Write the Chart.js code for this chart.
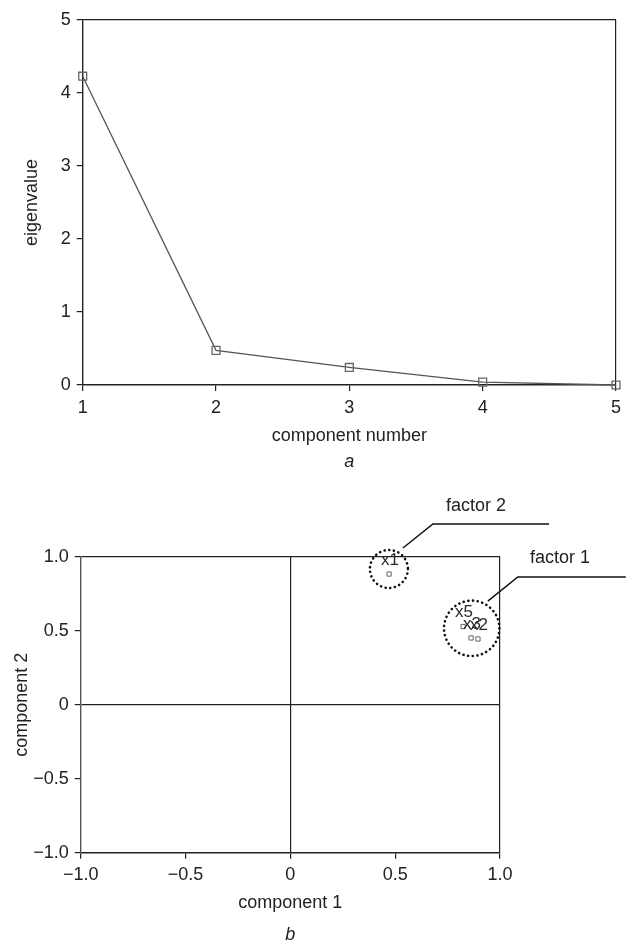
<!DOCTYPE html>
<html>
<head>
<meta charset="utf-8">
<script src="https://cdn.jsdelivr.net/npm/chart.js@4/dist/chart.umd.min.js"></script>
<style>
  body { margin: 0; background: #fff; }
  canvas { position: absolute; left: 0; display: block; }
  #graficoA { top: 0; }
  #graficoB { top: 473px; }
</style>
</head>
<body>
<canvas id="graficoA" width="627" height="473"></canvas>
<canvas id="graficoB" width="627" height="471"></canvas>
<script>
// dados do gráfico a (scree plot)
const componentes = [1, 2, 3, 4, 5];
const autovalores = [4.23, 0.475, 0.24, 0.04, 0.0];

// dados do gráfico b (cargas dos componentes)
const variaveis = ['x1', 'x5', 'x3', 'x2'];
const cargaComp1 = [0.471, 0.824, 0.862, 0.895];
const cargaComp2 = [0.883, 0.528, 0.451, 0.444];
const rotulosCarga = ['\u22121.0', '\u22120.5', '0', '0.5', '1.0'];

// círculos e chamadas dos fatores (em unidades dos eixos)
const circulos = [
  { cx: 0.47, cy: 0.917, raio: 19 },
  { cx: 0.865, cy: 0.516, raio: 27.7 }
];
const chamadas = [
  { texto: 'factor 2', tx: 0.742, ty: 1.343, linha: [[0.537, 1.059], [0.68, 1.221], [1.234, 1.221]] },
  { texto: 'factor 1', tx: 1.143, ty: 0.991, linha: [[0.942, 0.70], [1.085, 0.863], [1.6, 0.863]] }
];

Chart.defaults.font.family = '"Liberation Sans", Arial, sans-serif';
Chart.defaults.color = '#222';

const corEixo = '#222';

// desenha os nomes das variáveis em cima de cada ponto
const rotulosPontos = {
  id: 'rotulosPontos',
  afterDatasetsDraw(chart) {
    const ctx = chart.ctx;
    const meta = chart.getDatasetMeta(0);
    ctx.save();
    ctx.font = '17px "Liberation Sans", Arial, sans-serif';
    ctx.fillStyle = '#2a2a2a';
    ctx.textAlign = 'center';
    ctx.textBaseline = 'middle';
    meta.data.forEach((p, i) => {
      ctx.fillText(variaveis[i], p.x + 1, p.y - 14);
    });
    ctx.restore();
  }
};

// círculos pontilhados + linhas das chamadas "factor"
const fatores = {
  id: 'fatores',
  afterDatasetsDraw(chart) {
    const ctx = chart.ctx;
    const sx = chart.scales.x, sy = chart.scales.y;
    ctx.save();
    ctx.strokeStyle = '#111';
    ctx.lineWidth = 2.6;
    ctx.lineCap = 'round';
    ctx.setLineDash([0.1, 4.6]);
    circulos.forEach(c => {
      ctx.beginPath();
      ctx.arc(sx.getPixelForValue(c.cx), sy.getPixelForValue(c.cy), c.raio, 0, Math.PI * 2);
      ctx.stroke();
    });
    ctx.setLineDash([]);
    ctx.lineCap = 'butt';
    ctx.lineWidth = 1.5;
    chamadas.forEach(c => {
      ctx.beginPath();
      c.linha.forEach((pt, i) => {
        const px = sx.getPixelForValue(pt[0]), py = sy.getPixelForValue(pt[1]);
        if (i === 0) ctx.moveTo(px, py); else ctx.lineTo(px, py);
      });
      ctx.stroke();
      ctx.font = '18px "Liberation Sans", Arial, sans-serif';
      ctx.fillStyle = '#222';
      ctx.textAlign = 'left';
      ctx.textBaseline = 'middle';
      ctx.fillText(c.texto, sx.getPixelForValue(c.tx), sy.getPixelForValue(c.ty));
    });
    ctx.restore();
  }
};

// gráfico a
new Chart(document.getElementById('graficoA'), {
  type: 'line',
  data: {
    datasets: [{
      data: componentes.map((c, i) => ({ x: c, y: autovalores[i] })),
      borderColor: '#555',
      borderWidth: 1.3,
      tension: 0,
      pointStyle: 'rect',
      pointRadius: 5.6,
      pointBorderColor: '#666',
      pointBorderWidth: 1.3,
      pointBackgroundColor: 'rgba(0,0,0,0)',
      clip: false
    }]
  },
  options: {
    responsive: false,
    animation: false,
    layout: { padding: { top: 20, right: 8.7, bottom: 0, left: 0 } },
    scales: {
      x: {
        type: 'linear', min: 1, max: 5,
        ticks: { stepSize: 1, padding: 6, font: { size: 18 }, color: corEixo },
        grid: {
          color: c => (c.tick && c.tick.value === 5) ? corEixo : 'rgba(0,0,0,0)',
          tickColor: corEixo, tickLength: 6, lineWidth: 1.2
        },
        border: { color: corEixo, width: 1.4 },
        title: { display: true, text: 'component number', font: { size: 18 }, color: corEixo, padding: { top: 0, bottom: 6.2 } },
        afterFit: s => { s.height = 68; }
      },
      y: {
        min: 0, max: 5,
        ticks: { stepSize: 1, padding: 6, font: { size: 18 }, color: corEixo },
        grid: {
          color: c => (c.tick && c.tick.value === 5) ? corEixo : 'rgba(0,0,0,0)',
          tickColor: corEixo, tickLength: 6, lineWidth: 1.2
        },
        border: { color: corEixo, width: 1.4 },
        title: { display: true, text: 'eigenvalue', font: { size: 18 }, color: corEixo, padding: { top: 21, bottom: 0 } },
        afterFit: s => { s.width = 82.7; }
      }
    },
    plugins: {
      legend: { display: false },
      tooltip: { enabled: false },
      title: {
        display: true, text: 'a', position: 'bottom', fullSize: false, color: corEixo,
        font: { size: 18, style: 'italic', weight: 'normal', lineHeight: 1 },
        padding: { top: 0, bottom: 2 }
      }
    }
  }
});

// gráfico b
new Chart(document.getElementById('graficoB'), {
  type: 'scatter',
  data: {
    datasets: [{
      data: cargaComp1.map((v, i) => ({ x: v, y: cargaComp2[i] })),
      pointStyle: 'rect',
      pointRadius: 3,
      pointBorderColor: '#666',
      pointBorderWidth: 1,
      pointBackgroundColor: 'rgba(0,0,0,0)',
      clip: false
    }]
  },
  options: {
    responsive: false,
    animation: false,
    layout: { padding: { top: 83.7, right: 127, bottom: 0, left: 0 } },
    scales: {
      x: {
        type: 'linear', min: -1, max: 1,
        ticks: { stepSize: 0.5, padding: 6, font: { size: 18 }, color: corEixo, callback: (v, i) => rotulosCarga[i] },
        grid: {
          color: c => (c.tick && (c.tick.value === 0 || c.tick.value === 1)) ? corEixo : 'rgba(0,0,0,0)',
          tickColor: corEixo, tickLength: 6, lineWidth: 1.2
        },
        border: { color: corEixo, width: 1.4 },
        title: { display: true, text: 'component 1', font: { size: 18 }, color: corEixo, padding: { top: 0, bottom: 12.2 } },
        afterFit: s => { s.height = 73.3; }
      },
      y: {
        min: -1, max: 1,
        ticks: { stepSize: 0.5, padding: 6, font: { size: 18 }, color: corEixo, callback: (v, i) => rotulosCarga[i] },
        grid: {
          color: c => (c.tick && (c.tick.value === 0 || c.tick.value === 1)) ? corEixo : 'rgba(0,0,0,0)',
          tickColor: corEixo, tickLength: 6, lineWidth: 1.2
        },
        border: { color: '#555', width: 1.4 },
        title: { display: true, text: 'component 2', font: { size: 18 }, color: corEixo, padding: { top: 11, bottom: 0 } },
        afterFit: s => { s.width = 80.7; }
      }
    },
    plugins: {
      legend: { display: false },
      tooltip: { enabled: false },
      title: {
        display: true, text: 'b', position: 'bottom', fullSize: false, color: corEixo,
        font: { size: 18, style: 'italic', weight: 'normal', lineHeight: 1 },
        padding: 0
      }
    }
  },
  plugins: [rotulosPontos, fatores]
});
</script>
</body>
</html>
